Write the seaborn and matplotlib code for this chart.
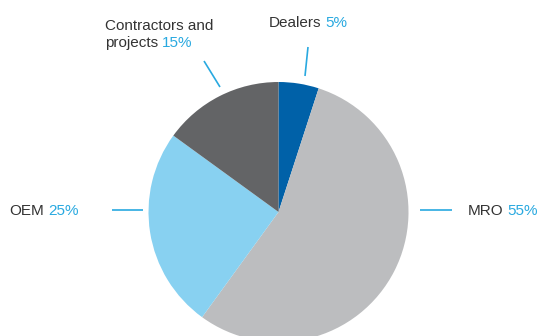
import matplotlib
matplotlib.use("Agg")
import matplotlib.pyplot as plt
import seaborn as sns

# Sales split by customer segment (clockwise from 12 o'clock)
segments = ["Dealers", "MRO", "OEM", "Contractors and projects"]
shares = [5, 55, 25, 15]
slice_colors = ["#0061a8", "#bcbdbf", "#88d1f1", "#636466"]

sns.set_theme(style="white")
plt.rcParams["font.family"] = ["Liberation Sans", "DejaVu Sans"]

W, H = 539, 336
TEXT = "#333333"
ACCENT = "#29a9e0"

fig = plt.figure(figsize=(W / 100, H / 100), dpi=100)
ax = fig.add_axes([0, 0, 1, 1])
ax.set_xlim(0, W)
ax.set_ylim(0, H)
ax.set_aspect("equal")
ax.axis("off")


def py(y):
    """Convert a top-down pixel row into the axes' y coordinate."""
    return H - y


ax.pie(shares, colors=sns.color_palette(slice_colors), startangle=90,
       counterclock=False, center=(278.5, py(212)), radius=130,
       wedgeprops=dict(linewidth=0), frame=True)
ax.set_xlim(0, W)
ax.set_ylim(0, H)
ax.axis("off")

# leader lines
leaders = {
    "Dealers": [(305, 76), (308, 47)],
    "MRO": [(420, 210), (452, 210)],
    "OEM": [(112, 210), (143, 210)],
    "Contractors and projects": [(204, 61), (220, 87)],
}
for pts in leaders.values():
    (x0, y0), (x1, y1) = pts
    ax.plot([x0, x1], [py(y0), py(y1)], color=ACCENT, lw=1.2,
            solid_capstyle="butt")

FS = 11


def label(x, y, name, value):
    t = ax.text(x, py(y), name, color=TEXT, fontsize=FS, ha="left",
                va="baseline")
    ax.annotate(f"{value}%", xy=(1, 0), xycoords=t, xytext=(3, 0),
                textcoords="offset points", color=ACCENT, fontsize=FS,
                ha="left", va="bottom")


share = dict(zip(segments, shares))
label(268.5, 27, "Dealers", share["Dealers"])
label(468, 215, "MRO", share["MRO"])
label(9, 215, "OEM", share["OEM"])
ax.text(105, py(30), "Contractors and", color=TEXT, fontsize=FS,
        ha="left", va="baseline")
label(105, 47, "projects", share["Contractors and projects"])

fig.savefig("out.png", dpi=100)
